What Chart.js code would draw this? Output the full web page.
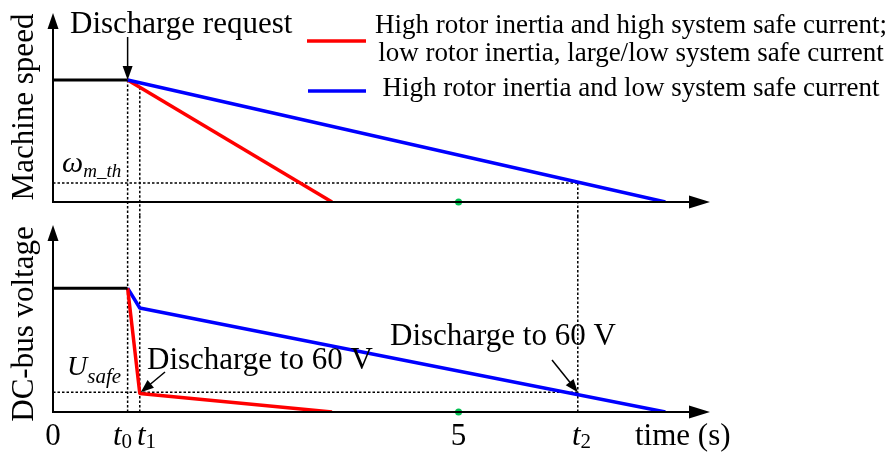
<!DOCTYPE html>
<html>
<head>
<meta charset="utf-8">
<script src="https://cdn.jsdelivr.net/npm/chart.js@4.4.1/dist/chart.umd.min.js"></script>
<style>
  body { margin: 0; background: #fff; }
  #wrap { position: relative; width: 888px; height: 452px; }
  canvas { position: absolute; left: 0; }
</style>
</head>
<body>
<div id="wrap">
  <canvas id="speedChart" width="888" height="216" style="top:0"></canvas>
  <canvas id="voltChart" width="888" height="236" style="top:216px"></canvas>
</div>
<script>
// ---- time axis (s) ----
const tMax = 8.1;
const t0 = 0.92, t1 = 1.07, t2 = 6.47;
const tickFive = 5;

// ---- machine speed (normalised) ----
const preTime = [0, t0];
const preSpeed = [1, 1];
const redSpeedTime = [t0, 3.44];
const redSpeed = [1, 0];
const blueSpeedTime = [t0, 7.55];
const blueSpeed = [1, 0];
const omegaTh = 0.155;

// ---- dc-bus voltage (normalised) ----
const preVolt = [1, 1];
const redVoltTime = [t0, t1, 3.44];
const redVolt = [1, 0.15, 0];
const blueVoltTime = [t0, t1, 7.55];
const blueVolt = [1, 0.84, 0];
const uSafe = 0.16;

const legendRed = ['High rotor inertia and high system safe current;',
                   'low rotor inertia, large/low system safe current'];
const legendBlue = 'High rotor inertia and low system safe current';

const RED = '#ff0000', BLUE = '#0000ff', GREEN = '#00c050';
const serif = '"Liberation Serif", "Times New Roman", serif';
const BIG = 31;

const zip = (xs, ys) => xs.map((x, i) => ({ x: x, y: ys[i] }));

// linear interpolation on a series (used to start t1 marker on the red curve)
const valueAt = (xs, ys, t) => {
  for (let i = 0; i < xs.length - 1; i++) {
    if (t >= xs[i] && t <= xs[i + 1]) {
      return ys[i] + (ys[i + 1] - ys[i]) * (t - xs[i]) / (xs[i + 1] - xs[i]);
    }
  }
  return 0;
};

const dashed = (ctx, x1, y1, x2, y2) => {
  ctx.save();
  ctx.strokeStyle = '#000';
  ctx.lineWidth = 1.5;
  ctx.setLineDash([2.5, 2]);
  ctx.beginPath();
  ctx.moveTo(x1, y1);
  ctx.lineTo(x2, y2);
  ctx.stroke();
  ctx.restore();
};

const arrow = (ctx, x1, y1, x2, y2, len, wid, lw) => {
  const a = Math.atan2(y2 - y1, x2 - x1);
  ctx.save();
  ctx.strokeStyle = '#000';
  ctx.fillStyle = '#000';
  ctx.lineWidth = lw;
  ctx.beginPath();
  ctx.moveTo(x1, y1);
  ctx.lineTo(x2 - Math.cos(a) * len * 0.8, y2 - Math.sin(a) * len * 0.8);
  ctx.stroke();
  ctx.beginPath();
  ctx.moveTo(x2, y2);
  ctx.lineTo(x2 - Math.cos(a) * len - Math.sin(a) * wid / 2, y2 - Math.sin(a) * len + Math.cos(a) * wid / 2);
  ctx.lineTo(x2 - Math.cos(a) * len + Math.sin(a) * wid / 2, y2 - Math.sin(a) * len - Math.cos(a) * wid / 2);
  ctx.closePath();
  ctx.fill();
  ctx.restore();
};

const drawAxes = (chart) => {
  const { ctx, chartArea, scales } = chart;
  const x0 = scales.x.getPixelForValue(0);
  const y0 = scales.y.getPixelForValue(0);
  arrow(ctx, x0, y0 + 1, x0, chartArea.top, 16, 11, 2);
  arrow(ctx, x0 - 1, y0, scales.x.getPixelForValue(tMax), y0, 21, 13, 2);
};

// text with italic main letter and subscript
const subText = (ctx, x, y, main, sub, mainSize, subSize, subItalic, subDrop) => {
  ctx.font = 'italic ' + mainSize + 'px ' + serif;
  ctx.fillText(main, x, y);
  const w = ctx.measureText(main).width;
  ctx.font = (subItalic ? 'italic ' : '') + subSize + 'px ' + serif;
  ctx.fillText(sub, x + w, y + subDrop);
  return w + ctx.measureText(sub).width;
};

const verticalTitle = (ctx, text, x, yMid) => {
  ctx.save();
  ctx.translate(x, yMid);
  ctx.rotate(-Math.PI / 2);
  ctx.font = BIG + 'px ' + serif;
  ctx.textAlign = 'center';
  ctx.textBaseline = 'alphabetic';
  ctx.fillStyle = '#000';
  ctx.fillText(text, 0, 0);
  ctx.restore();
};

const speedDecor = {
  id: 'speedDecor',
  beforeDatasetsDraw(chart) {
    const { ctx, scales, height } = chart;
    const xs = scales.x, ys = scales.y;
    dashed(ctx, xs.getPixelForValue(0), ys.getPixelForValue(omegaTh), xs.getPixelForValue(t2), ys.getPixelForValue(omegaTh));
    dashed(ctx, xs.getPixelForValue(t0), ys.getPixelForValue(1), xs.getPixelForValue(t0), height);
    dashed(ctx, xs.getPixelForValue(t1), ys.getPixelForValue(valueAt(redSpeedTime, redSpeed, t1)), xs.getPixelForValue(t1), height);
    dashed(ctx, xs.getPixelForValue(t2), ys.getPixelForValue(omegaTh), xs.getPixelForValue(t2), height);
  },
  afterDatasetsDraw(chart) {
    const { ctx, scales } = chart;
    const xs = scales.x, ys = scales.y;
    drawAxes(chart);
    ctx.save();
    ctx.fillStyle = '#000';
    ctx.textBaseline = 'alphabetic';
    // discharge request
    ctx.font = BIG + 'px ' + serif;
    ctx.fillText('Discharge request', 70, 33);
    arrow(ctx, xs.getPixelForValue(t0), 37, xs.getPixelForValue(t0), ys.getPixelForValue(1), 14, 10, 1.5);
    // omega threshold label
    subText(ctx, 62, 172, '\u03c9', 'm_th', 30, 19, true, 5);
    // legend
    ctx.lineWidth = 3.5;
    ctx.strokeStyle = RED;
    ctx.beginPath(); ctx.moveTo(307, 41); ctx.lineTo(366, 41); ctx.stroke();
    ctx.strokeStyle = BLUE;
    ctx.beginPath(); ctx.moveTo(308, 91); ctx.lineTo(366, 91); ctx.stroke();
    ctx.font = '27px ' + serif;
    ctx.textAlign = 'center';
    ctx.fillText(legendRed[0], 631, 33);
    ctx.fillText(legendRed[1], 631, 61);
    ctx.fillText(legendBlue, 631, 96);
    ctx.restore();
    verticalTitle(ctx, 'Machine speed', 33, 107);
  }
};

const voltDecor = {
  id: 'voltDecor',
  beforeDatasetsDraw(chart) {
    const { ctx, scales } = chart;
    const xs = scales.x, ys = scales.y;
    const yb = ys.getPixelForValue(0);
    dashed(ctx, xs.getPixelForValue(0), ys.getPixelForValue(uSafe), xs.getPixelForValue(t2), ys.getPixelForValue(uSafe));
    dashed(ctx, xs.getPixelForValue(t0), 0, xs.getPixelForValue(t0), yb);
    dashed(ctx, xs.getPixelForValue(t1), 0, xs.getPixelForValue(t1), yb);
    dashed(ctx, xs.getPixelForValue(t2), 0, xs.getPixelForValue(t2), yb);
  },
  afterDatasetsDraw(chart) {
    const { ctx, scales } = chart;
    const xs = scales.x, ys = scales.y;
    drawAxes(chart);
    ctx.save();
    ctx.fillStyle = '#000';
    ctx.textBaseline = 'alphabetic';
    ctx.font = BIG + 'px ' + serif;
    ctx.fillText('Discharge to 60 V', 147, 153);
    ctx.fillText('Discharge to 60 V', 390, 129);
    arrow(ctx, 165, 156, xs.getPixelForValue(t1) + 1, ys.getPixelForValue(uSafe), 13, 10, 1.5);
    arrow(ctx, 552, 144, xs.getPixelForValue(t2), ys.getPixelForValue(uSafe), 13, 10, 1.5);
    // U_safe label
    subText(ctx, 67, 159, 'U', 'safe', 28, 21, true, 8);
    // time tick labels
    const base = 229;
    ctx.font = BIG + 'px ' + serif;
    ctx.textAlign = 'center';
    ctx.fillText('0', xs.getPixelForValue(0), base);
    ctx.fillText(String(tickFive), xs.getPixelForValue(tickFive), base);
    ctx.textAlign = 'left';
    subText(ctx, 113, base, 't', '0', BIG, 21, false, 3);
    subText(ctx, 137, base, 't', '1', BIG, 21, false, 3);
    subText(ctx, 572, base, 't', '2', BIG, 21, false, 3);
    ctx.font = BIG + 'px ' + serif;
    ctx.fillText('time (s)', 635, base);
    ctx.restore();
    verticalTitle(ctx, 'DC-bus voltage', 33, 108);
  }
};

const lineSet = (data, color, width) => ({
  data: data,
  borderColor: color,
  borderWidth: width,
  pointRadius: 0,
  fill: false,
  tension: 0,
  borderJoinStyle: 'round'
});

const dotSet = () => ({
  type: 'scatter',
  data: [{ x: tickFive, y: 0 }],
  pointRadius: 3.5,
  pointBackgroundColor: GREEN,
  pointBorderWidth: 0,
  clip: false
});

const baseOptions = (yMax, pad) => ({
  responsive: false,
  animation: false,
  layout: { padding: pad },
  plugins: { legend: { display: false }, tooltip: { enabled: false } },
  scales: {
    x: { type: 'linear', min: 0, max: tMax, display: false },
    y: { type: 'linear', min: 0, max: yMax, display: false }
  }
});

new Chart(document.getElementById('speedChart').getContext('2d'), {
  type: 'line',
  data: {
    datasets: [
      lineSet(zip(preTime, preSpeed), '#000', 3),
      lineSet(zip(blueSpeedTime, blueSpeed), BLUE, 3.5),
      lineSet(zip(redSpeedTime, redSpeed), RED, 3.5),
      dotSet()
    ]
  },
  options: baseOptions(1.55, { left: 53, right: 178, top: 13, bottom: 14 }),
  plugins: [speedDecor]
});

new Chart(document.getElementById('voltChart').getContext('2d'), {
  type: 'line',
  data: {
    datasets: [
      lineSet(zip(preTime, preVolt), '#000', 3),
      lineSet(zip(redVoltTime, redVolt), RED, 3.5),
      lineSet(zip(blueVoltTime, blueVolt), BLUE, 3.5),
      dotSet()
    ]
  },
  options: baseOptions(1.51, { left: 53, right: 178, top: 9, bottom: 40 }),
  plugins: [voltDecor]
});
</script>
</body>
</html>
